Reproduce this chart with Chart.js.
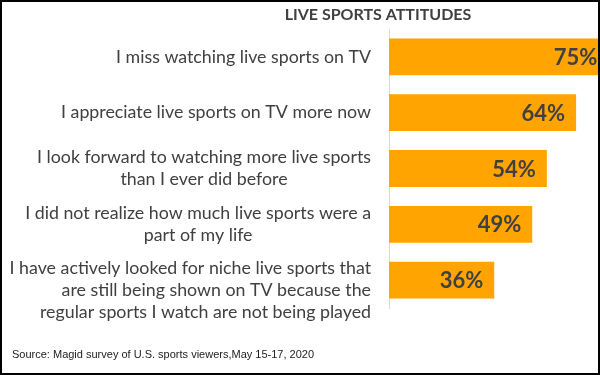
<!DOCTYPE html>
<html>
<head>
<meta charset="utf-8">
<script src="https://cdn.jsdelivr.net/npm/chart.js@4"></script>
<style>
  html, body { margin: 0; padding: 0; background: #fff; }
  #wrap { width: 600px; height: 375px; box-sizing: border-box; border: 2px solid #000; position: relative; }
  #wrap canvas { display: block; }
</style>
</head>
<body>
<div id="wrap"><canvas id="attitudesChart" width="596" height="371"></canvas></div>
<script>
(function() {
    // Data
    var chartTitle = 'LIVE SPORTS ATTITUDES';
    var sourceNote = 'Source: Magid survey of U.S. sports viewers,May 15-17, 2020';
    var categories = [
        ['I miss watching live sports on TV'],
        ['I appreciate live sports on TV more now'],
        ['I look forward to watching more live sports', 'than I ever did before'],
        ['I did not realize how much live sports were a', 'part of my life'],
        ['I have actively looked for niche live sports that', 'are still being shown on TV because the', 'regular sports I watch are not being played']
    ];
    var values = [75, 64, 54, 49, 36];

    // how the lines of each label line up against each other
    var lineAlign = ['right', 'right', 'center', 'center', 'right'];

    var textGrey = '#404040';
    var labelFont = '17.8px Lato';
    var lineHeight = 22;

    // Draws the category labels, title, source and value labels.
    var textPlugin = {
        id: 'textPlugin',
        afterDraw: function(chart) {
            var ctx = chart.ctx;
            var yScale = chart.scales.y;
            var xScale = chart.scales.x;
            var rightEdge = chart.chartArea.left - 18;
            var band = chart.chartArea.height / categories.length;

            ctx.save();
            ctx.fillStyle = textGrey;
            ctx.font = labelFont;
            ctx.textBaseline = 'middle';
            categories.forEach(function(lines, i) {
                var yc = yScale.getPixelForTick(i);
                // a block taller than its band gets pushed down, as in the original
                var overflow = Math.max(0, lines.length * lineHeight - band);
                var y0 = yc - (lines.length - 1) * lineHeight / 2 + overflow;
                var widths = lines.map(function(l) { return ctx.measureText(l).width; });
                var blockW = Math.max.apply(null, widths);
                lines.forEach(function(line, j) {
                    var x;
                    if (lineAlign[i] === 'center') {
                        ctx.textAlign = 'center';
                        x = rightEdge - blockW / 2;
                    } else {
                        ctx.textAlign = 'right';
                        x = rightEdge;
                    }
                    ctx.fillText(line, x, y0 + j * lineHeight);
                });
            });

            // value labels at the inner end of each bar
            ctx.font = 'bold 22px Lato';
            ctx.textAlign = 'right';
            values.forEach(function(v, i) {
                ctx.fillText(v + '%', xScale.getPixelForValue(v) - 11, yScale.getPixelForTick(i) + 1);
            });

            // title
            ctx.font = 'bold 16px Lato';
            ctx.textAlign = 'center';
            ctx.fillText(chartTitle, 376, 13);

            // source note
            ctx.fillStyle = '#222';
            ctx.font = '11px "Liberation Sans"';
            ctx.textAlign = 'left';
            ctx.fillText(sourceNote, 10, 353);
            ctx.restore();
        }
    };

    var chart = document.getElementById('attitudesChart');
    var attitudesChart = new Chart(chart, {
        type: 'bar',
        data: {
            labels: categories,
            datasets: [{
                data: values,
                backgroundColor: '#FFA401',
                borderWidth: 0,
                barPercentage: 0.66,
                categoryPercentage: 1
            }]
        },
        options: {
            indexAxis: 'y',
            responsive: false,
            animation: false,
            layout: { padding: { top: 27, bottom: 65, left: 0, right: 0 } },
            plugins: {
                legend: { display: false },
                tooltip: { enabled: false }
            },
            scales: {
                x: {
                    display: false,
                    min: 0,
                    max: 71.5
                },
                y: {
                    afterFit: function(scale) { scale.width = 387; },
                    grid: { display: false },
                    border: { display: true, color: '#d9d9d9', width: 1 },
                    ticks: { display: false }
                }
            }
        },
        plugins: [textPlugin]
    });
})();
</script>
</body>
</html>
